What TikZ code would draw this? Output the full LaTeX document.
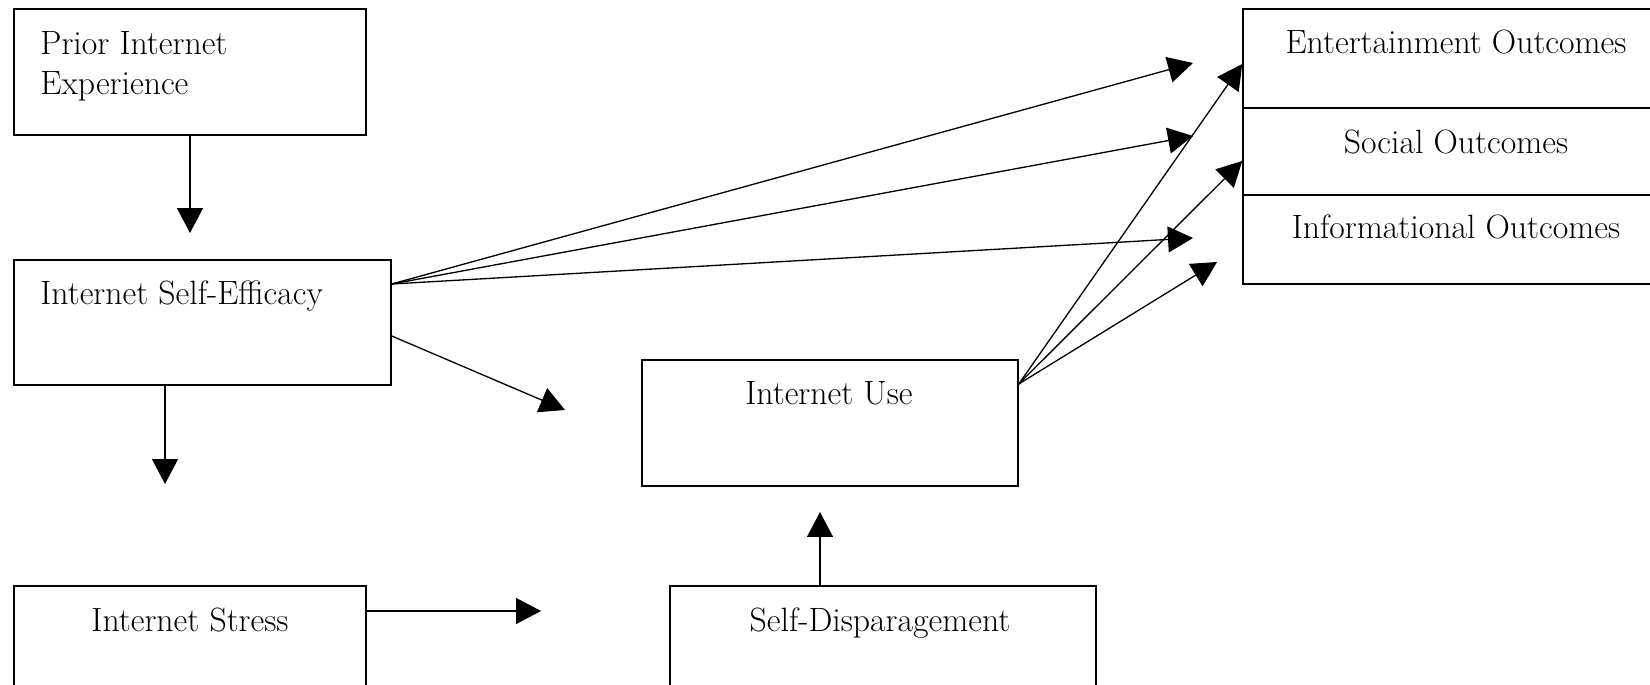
\documentclass[tikz,border=0pt]{standalone}
\usepackage{tikz}
\usetikzlibrary{arrows.meta, positioning}
\tikzset{
    varbox/.style={
        rectangle,
        draw=black,
        line width=0.9pt,
        inner sep=0pt
    },
    vartext/.style={
        inner sep=0pt,
        align=left,
        font=\fontsize{19.2}{22.8}\selectfont
    },
    patharrow/.style={-{Triangle[length=0.5cm, width=0.52cm]}, line width=0.75pt, draw=black}
}

\begin{document}
\begin{tikzpicture}[x=0.02cm,y=-0.02cm]
        \useasboundingbox (0,0) rectangle (1650,685);

        % boxes
        \node[varbox, minimum width=7.04cm, minimum height=2.52cm] (prior) at (190,72) {};
        \node[varbox, minimum width=7.54cm, minimum height=2.5cm] (ise) at (202.5,322.5) {};
        \node[varbox, minimum width=7.04cm, minimum height=2.68cm] (stress) at (190,653) {};
        \node[varbox, minimum width=7.52cm, minimum height=2.52cm] (use) at (830,423) {};
        \node[varbox, minimum width=8.52cm, minimum height=2.68cm] (selfdisp) at (883,653) {};
        \node[varbox, minimum width=8.34cm, minimum height=1.98cm] (entert) at (1451.5,58.5) {};
        \node[varbox, minimum width=8.34cm, minimum height=1.74cm] (social) at (1451.5,151.5) {};
        \node[varbox, minimum width=8.34cm, minimum height=1.78cm] (inform) at (1451.5,239.5) {};

        % labels
        \node[vartext, anchor=north west] (priorText) at (40,31) {Prior Internet\\Experience};
        \node[vartext, anchor=base west] (iseText) at (40,305) {Internet Self-Efficacy};
        \node[vartext, anchor=base] (stressText) at (190,631) {Internet Stress};
        \node[vartext, anchor=base] (useText) at (829,405) {Internet Use};
        \node[vartext, anchor=base] (selfdispText) at (880,631) {Self-Disparagement};
        \node[vartext, anchor=base] (entertText) at (1456,54) {Entertainment Outcomes};
        \node[vartext, anchor=base] (socialText) at (1456,154) {Social Outcomes};
        \node[vartext, anchor=base] (informText) at (1456,239) {Informational Outcomes};

        % free arrow ends
        \coordinate (priorTip) at (190,233);
        \coordinate (iseTip) at (165,484);
        \coordinate (stressTip) at (541,611);
        \coordinate (useTip) at (565,410);
        \coordinate (selfdispTip) at (820,512);
        \coordinate (iseFan) at (ise.east |- 0,284);
        \coordinate (useFan) at (use.east |- 0,384);
        \coordinate (entertTip) at (1193,63);
        \coordinate (socialTip) at (1193,136);
        \coordinate (informTip) at (1193,238);
        \coordinate (informTipB) at (1217,262);

        \draw[patharrow] (prior.south) -- (priorTip);
        \draw[patharrow] (ise.south -| iseTip) -- (iseTip);
        \draw[patharrow] (stress.east |- stressTip) -- (stressTip);
        \draw[patharrow] (ise.east |- 0,336) -- (useTip);
        \draw[patharrow] (selfdisp.north -| selfdispTip) -- (selfdispTip);

        \foreach \tip in {entertTip,socialTip,informTip} {
            \draw[patharrow] (iseFan) -- (\tip);
        }
        \draw[patharrow] (useFan) -- (entert.west |- 0,64);
        \draw[patharrow] (useFan) -- (social.west |- 0,161);
        \draw[patharrow] (useFan) -- (informTipB);
    \end{tikzpicture}
\end{document}
